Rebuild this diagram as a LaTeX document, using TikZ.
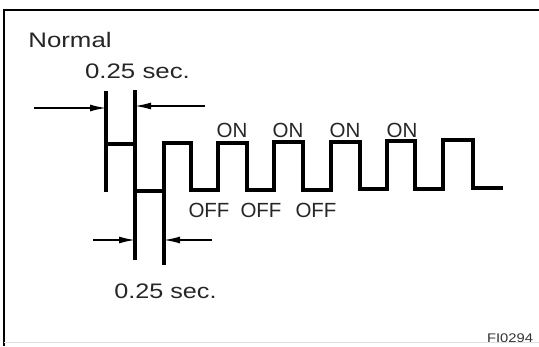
\documentclass[tikz,border=0pt]{standalone}
\usepackage{fontspec}
\setmainfont{Liberation Sans}
\usepackage{graphicx}
\usetikzlibrary{arrows.meta}
\begin{document}
\begin{tikzpicture}[x=1pt,y=-1pt,
  wave/.style={line width=3.2pt, line join=miter, line cap=butt},
  dimline/.style={line width=1.4pt, -{Latex[length=16pt,width=7pt]}},
  frameline/.style={line width=2.2pt},
  biglbl/.style={anchor=base, inner sep=0pt, font=\fontsize{21}{21}\selectfont, text=black!85},
  stlbl/.style={anchor=base, inner sep=0pt, font=\fontsize{20.5}{20.5}\selectfont, text=black!85},
  codelbl/.style={anchor=base, inner sep=0pt, font=\fontsize{12.5}{12.5}\selectfont, text=black!80}]
\useasboundingbox (0,0) rectangle (539,346);
% frame
\draw[frameline] (4,346) -- (4,10) -- (539,10);
\draw[line width=0.8pt, black!12] (4,342) -- (539,342);
% labels
\node[biglbl] (normal) at (70,47) {\scalebox{1.23}[1]{Normal}};
\node[biglbl] (toptime) at (137.5,78) {\scalebox{1.23}[1]{0.25 sec.}};
\node[biglbl] (bottime) at (165.5,298) {\scalebox{1.2}[1]{0.25 sec.}};
\node[codelbl] (code) at (510,342) {\scalebox{1.18}[1]{FI0294}};
\node[stlbl] (on1) at (232,137) {ON};
\node[stlbl] (on2) at (288,137) {ON};
\node[stlbl] (on3) at (345,137) {ON};
\node[stlbl] (on4) at (402,137) {ON};
\node[stlbl] (off1) at (209,217) {OFF};
\node[stlbl] (off2) at (261,217) {OFF};
\node[stlbl] (off3) at (316,217) {OFF};
% marker coordinates
\coordinate (m1t) at (106,91);
\coordinate (m1b) at (106,192);
\coordinate (m2t) at (135,90);
\coordinate (m2b) at (135,260);
\coordinate (m3t) at (164,143);
\coordinate (m3b) at (164,265);
\coordinate (a1) at (34,108);
\coordinate (a1e) at (106,108);
\coordinate (a2) at (205,106);
\coordinate (a2e) at (135,106);
\coordinate (a3) at (93,240);
\coordinate (a3e) at (135,240);
\coordinate (a4) at (212,240);
\coordinate (a4e) at (164,240);
% waveform
\draw[wave] (m1t) -- (m1b);
\draw[wave] (106,144) -- (135,144);
\draw[wave] (m2t) -- (m2b);
\draw[wave] (135,191) -- (164,191);
\draw[wave] (m3b) -- (m3t) -- (191,143) -- (191,190) -- (218,190) -- (218,143)
  -- (247,143) -- (247,190) -- (274,190) -- (274,142) -- (303,142) -- (303,190)
  -- (331,190) -- (331,142) -- (360,142) -- (360,189) -- (387,189) -- (387,141)
  -- (415,141) -- (415,189) -- (443,189) -- (443,140) -- (473,140) -- (473,188)
  -- (503,188);
% dimension arrows
\draw[dimline] (a1) -- (a1e);
\draw[dimline] (a2) -- (a2e);
\draw[dimline] (a3) -- (a3e);
\draw[dimline] (a4) -- (a4e);
\end{tikzpicture}
\end{document}
